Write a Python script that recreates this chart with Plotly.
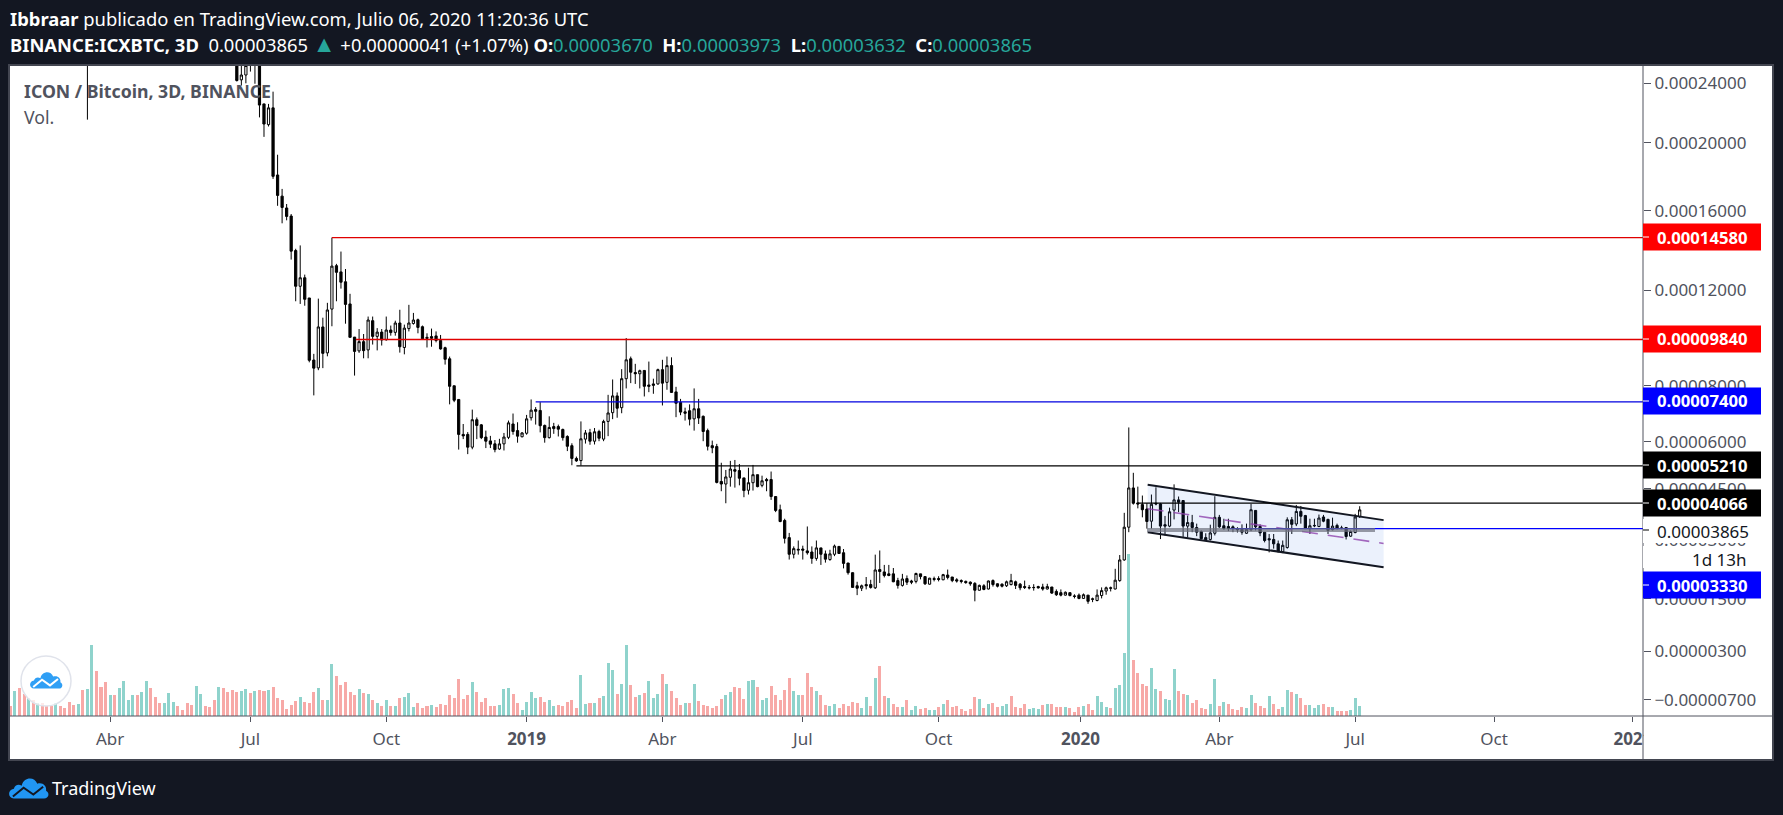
import pandas as pd
import plotly.graph_objects as go
from plotly.subplots import make_subplots

# precios en satoshis (1e-8 BTC), ultimas velas visibles
open_ = [26500, 24250, 24600, 26200, 26500, 25400, 22560, 21170, 22290, 18040,
         16820, 16160, 15720, 13920, 12190, 12590, 11650, 9000, 8690, 10370,
         9290, 11150, 13170, 12870, 12400, 11380, 9940, 9370, 9750, 9410,
         10640, 9970, 10150, 9830, 10240, 10140, 10540, 9510, 10300, 10520,
         10680, 10380, 9930, 9960, 9990, 9800, 9500, 9050, 8000, 7490,
         6250, 6250, 5820, 6760, 6580, 6160, 6030, 5930, 5760, 5930,
         6150, 6610, 6380, 6170, 6290, 6830, 7120, 7090, 6560, 6140,
         6520, 6520, 6420, 6180, 5870, 5450, 5380, 6090, 6310, 6020,
         6350, 6090, 6700, 7010, 7620, 7190, 8270, 9050, 8510, 8460,
         8590, 8030, 8070, 8070, 8620, 8130, 8780, 7770, 7380, 7040,
         7080, 6790, 7150, 6880, 6380, 5870, 5840, 4720, 4640, 4850,
         5090, 5060, 4830, 4450, 4680, 4930, 4600, 4780, 4780, 4260,
         3870, 3560, 3080, 2630, 2740, 2770, 2720, 2690, 2520, 2800,
         2640, 2490, 2630, 2840, 2670, 2400, 2150, 1820, 1760, 1850,
         1850, 1770, 2230, 2170, 2120, 2120, 1950, 1830, 2000, 1940,
         1930, 2120, 2050, 1860, 2000, 2000, 1970, 2090, 2040, 1970,
         1950, 1930, 1910, 1880, 1710, 1820, 1740, 1950, 1870, 1860,
         1820, 1850, 1920, 1860, 1800, 1780, 1780, 1800, 1790, 1740,
         1790, 1680, 1650, 1590, 1650, 1570, 1590, 1510, 1590, 1500,
         1460, 1580, 1690, 1770, 1740, 1950, 2480, 3370, 4520, 4070,
         4020, 3890, 3540, 4060, 4040, 3440, 3400, 3860, 4160, 4140,
         3400, 3500, 3360, 3250, 3080, 3030, 3200, 3650, 3410, 3390,
         3380, 3320, 3310, 3200, 3300, 3850, 3390, 3230, 3050, 3030,
         2910, 2700, 2810, 3580, 3460, 3820, 3700, 3330, 3420, 3390,
         3660, 3590, 3300, 3420, 3350, 3360, 3120, 3220, 3670]
high = [27000, 25800, 26000, 26500, 27000, 26000, 22560, 22560, 23410, 19260,
        17230, 16380, 15830, 14010, 14180, 12740, 11650, 9250, 11620, 10770,
        11430, 14580, 13260, 13870, 13010, 11840, 9940, 10280, 10070, 10820,
        10820, 10320, 10280, 10820, 10430, 10640, 11120, 10470, 11340, 10980,
        10730, 10430, 10100, 10300, 10180, 10030, 9540, 9140, 8000, 7490,
        6610, 6330, 7120, 6840, 6610, 6380, 6200, 6060, 6100, 6300,
        6730, 6980, 6670, 6330, 6930, 7490, 7210, 7390, 6590, 6880,
        6650, 6590, 6450, 6220, 5950, 5510, 6700, 6400, 6440, 6470,
        6410, 6760, 7660, 8240, 7750, 8640, 9900, 9140, 8850, 8620,
        8590, 8940, 8270, 8660, 9010, 9140, 9110, 7960, 7510, 7190,
        7310, 7900, 7510, 6910, 6450, 6040, 5930, 5310, 5080, 5370,
        5400, 5270, 4830, 5150, 5240, 4930, 4900, 4830, 5030, 4260,
        4020, 3610, 3210, 2840, 3000, 2860, 3390, 2840, 3000, 2800,
        2730, 2750, 2890, 2840, 2770, 2400, 2160, 1920, 1850, 2040,
        1970, 2620, 2730, 2350, 2350, 2270, 2020, 2120, 2080, 1970,
        2150, 2120, 2050, 2020, 2050, 2060, 2120, 2230, 2040, 2010,
        1980, 1950, 1930, 1910, 1850, 1860, 1950, 1980, 1880, 1880,
        1950, 2120, 1950, 1890, 1950, 1840, 1860, 1820, 1870, 1870,
        1790, 1730, 1730, 1680, 1650, 1610, 1630, 1630, 1590, 1530,
        1730, 1780, 1800, 1800, 2250, 2610, 3780, 6490, 4990, 4560,
        4290, 4060, 4320, 4540, 4070, 3690, 3930, 4630, 4260, 4140,
        3700, 3720, 3470, 3280, 3200, 3440, 4270, 3720, 3610, 3610,
        3420, 3370, 3450, 3470, 4040, 3860, 3450, 3230, 3180, 3180,
        3000, 3000, 3650, 3660, 4010, 3980, 3720, 3610, 3610, 3730,
        3720, 3610, 3640, 3470, 3410, 3360, 3280, 3750, 3973]
low = [24130, 23840, 24000, 24850, 23970, 21650, 20380, 21050, 17810, 16280,
       15330, 15490, 13470, 11500, 11380, 11300, 8910, 7640, 8600, 8680,
       9150, 10400, 11500, 12080, 10510, 9930, 8390, 9290, 9070, 9070,
       9630, 9390, 9590, 9790, 10000, 10000, 9300, 9230, 10180, 10470,
       10100, 9820, 9510, 9540, 9720, 9420, 8820, 7310, 7390, 5740,
       6090, 5590, 5750, 6090, 6090, 5790, 5790, 5650, 5730, 5710,
       6090, 6240, 5970, 6150, 6240, 6730, 6590, 6320, 5970, 6110,
       6270, 6180, 6040, 5690, 5230, 5340, 5220, 5940, 5900, 5910,
       6020, 6020, 6190, 6780, 6830, 6990, 7900, 8100, 8070, 7900,
       7600, 7760, 7700, 8040, 7270, 7850, 7730, 6850, 6920, 6730,
       6560, 6380, 6610, 6020, 5710, 5620, 4660, 4420, 4060, 4560,
       4530, 4600, 4240, 4320, 4440, 4540, 4540, 4420, 4160, 3800,
       3510, 2920, 2490, 2520, 2620, 2490, 2620, 2380, 2460, 2350,
       2410, 2460, 2580, 2640, 2260, 2100, 1780, 1590, 1690, 1730,
       1750, 1740, 1890, 2030, 2060, 1910, 1750, 1800, 1840, 1860,
       1880, 1980, 1840, 1850, 1930, 1930, 1960, 1980, 1910, 1900,
       1880, 1870, 1820, 1440, 1700, 1710, 1730, 1800, 1780, 1780,
       1790, 1830, 1740, 1710, 1740, 1730, 1700, 1750, 1700, 1730,
       1620, 1570, 1560, 1580, 1560, 1510, 1490, 1500, 1380, 1420,
       1440, 1510, 1600, 1680, 1730, 1920, 2460, 3230, 4020, 3910,
       3650, 3330, 3330, 4000, 3040, 3140, 3370, 3590, 3800, 3100,
       3080, 3230, 3120, 3030, 3000, 3000, 3140, 3350, 3300, 3260,
       3230, 3220, 3160, 3180, 3260, 3280, 3120, 2950, 2680, 2780,
       2680, 2660, 2780, 3180, 3400, 3470, 3330, 3180, 3370, 3370,
       3510, 3180, 3280, 3310, 3310, 3030, 3100, 3200, 3632]
close = [24200, 24600, 25300, 25800, 26200, 22480, 21210, 22290, 17960, 16860,
         16190, 15700, 13890, 12190, 12590, 11590, 8990, 8680, 10370, 9270,
         11110, 13150, 12850, 12380, 11360, 9930, 9350, 9750, 9380, 10670,
         9970, 10150, 9820, 10240, 10130, 10540, 9540, 10320, 10540, 10670,
         10350, 9870, 9890, 9890, 9800, 9450, 9030, 7980, 7460, 6250,
         6200, 5820, 6760, 6560, 6140, 6020, 5920, 5740, 5930, 6160,
         6650, 6350, 6190, 6300, 6790, 7100, 7060, 6550, 6140, 6490,
         6450, 6430, 6140, 5850, 5450, 5370, 6100, 6300, 6020, 6340,
         6120, 6700, 7000, 7620, 7170, 8270, 9010, 8520, 8460, 8580,
         7980, 7980, 8020, 8620, 8100, 8780, 7750, 7350, 7030, 6990,
         6780, 7150, 6820, 6350, 5850, 5800, 4690, 4640, 4860, 5110,
         5040, 4820, 4440, 4680, 4930, 4560, 4740, 4740, 4260, 3850,
         3530, 3060, 2630, 2780, 2760, 2740, 2670, 2520, 2800, 2630,
         2500, 2640, 2850, 2650, 2390, 2150, 1780, 1760, 1820, 1820,
         1780, 2220, 2180, 2080, 2080, 1920, 1830, 1990, 1910, 1910,
         2130, 2050, 1870, 2010, 1980, 1980, 2100, 2030, 1950, 1940,
         1930, 1900, 1870, 1710, 1830, 1730, 1940, 1850, 1810, 1810,
         1920, 1950, 1830, 1770, 1780, 1770, 1775, 1770, 1740, 1800,
         1640, 1600, 1590, 1660, 1580, 1560, 1510, 1600, 1440, 1490,
         1590, 1700, 1770, 1760, 1960, 2480, 3370, 4520, 4060, 4040,
         3870, 3530, 4030, 4040, 3400, 3400, 3810, 4160, 4090, 3400,
         3500, 3360, 3230, 3050, 3020, 3210, 3650, 3380, 3330, 3330,
         3340, 3300, 3230, 3310, 3870, 3380, 3210, 3000, 3020, 2910,
         2700, 2870, 3580, 3450, 3820, 3680, 3330, 3410, 3410, 3630,
         3540, 3280, 3400, 3330, 3340, 3110, 3250, 3660, 3865]

volume = [31, 76, 85, 67, 54, 49, 39, 39, 31, 31, 39, 31, 25, 43, 34, 37, 79, 82, 214, 136,
          88, 103, 64, 64, 85, 106, 49, 64, 64, 73, 106, 85, 58, 40, 40, 70, 43, 31, 19, 40,
          34, 91, 67, 31, 28, 49, 88, 85, 73, 79, 73, 76, 82, 70, 76, 79, 76, 79, 88, 55,
          49, 22, 34, 46, 58, 43, 40, 73, 85, 49, 49, 157, 121, 94, 103, 73, 64, 82, 70, 67,
          49, 40, 31, 49, 31, 31, 55, 58, 70, 28, 40, 25, 31, 34, 28, 37, 34, 64, 55, 112,
          52, 64, 103, 73, 43, 55, 31, 31, 34, 82, 85, 67, 40, 19, 43, 73, 55, 58, 43, 49,
          31, 34, 31, 43, 49, 25, 124, 37, 40, 40, 55,
          61, 160, 139, 67, 97, 214, 94, 58, 64, 70, 106, 55, 67, 127, 97, 76, 55, 34, 40, 40,
          97, 46, 34, 31, 25, 31, 52, 64, 73, 88, 85, 52, 106, 109, 88, 49, 55, 91, 64, 49,
          79, 115, 76, 64, 64, 130, 88, 76, 64, 34, 31, 37, 25, 37, 31, 43, 40, 25, 58, 31,
          115, 151, 61, 55, 37, 28, 28, 49, 19, 31, 22, 25, 19, 19, 28, 37, 49, 28, 31, 22,
          16, 22, 58, 52, 25, 37, 40, 28, 31, 37, 61, 28, 25, 37, 22, 25, 22, 34, 37, 37,
          28, 28, 28, 25, 13, 28, 31, 37, 19, 61, 43, 28, 25, 85, 94, 190, 486, 169, 130, 97,
          91, 145, 82, 76, 52, 49, 142, 76, 67, 64, 40, 49, 25, 22, 37, 112, 31, 43, 37, 22,
          19, 28, 25, 64, 40, 31, 25, 61, 37, 22, 28, 79, 73, 67, 55, 34, 34, 25, 34, 37,
          28, 28, 16, 16, 16, 19, 55, 31]
vol_dir = list("rgrrgrgrrrgrrrrgrggr"
               "rrgrggggrggrrrgggrrr"
               "rggrrrgrrrrggrgrrgrr"
               "rrrrgrrrgrggrrrrrgrg"
               "rgrgrgrgggrrrgrrrrrr"
               "rrgrrrrrgggrrggggrrg"
               "grrrrrggrgr"
               "gggrggrrgrgggrgrrrgr"
               "grrrrrrggrrrggrggrrr"
               "rrggrrrgrrggrrrrrggr"
               "grrgrrgrggrrggrgrrrr"
               "rrrgrgrrggrrrrgggrgr"
               "rrgrrrgrrgggrggggrrr"
               "rggrgggrrgrrrrggrgrr"
               "rrggrrrgrrggrgrrgggr"
               "rgrrrggg")

# cada marca va en la vela donde aparece la etiqueta
tick_dates = ["2018-03-29", "2018-06-30", "2018-09-28", "2018-12-30", "2019-03-30", "2019-07-01",
              "2019-09-29", "2020-01-01", "2020-04-02", "2020-07-01", "2020-10-01", "2021-01-01"]
tick_names = ["Abr", "Jul", "Oct", "<b>2019</b>", "Abr", "Jul", "Oct", "<b>2020</b>", "Abr", "Jul", "Oct", "<b>2021</b>"]
price_ticks = [24000, 20000, 16000, 12000, 8000, 6000, 4500, 3000, 1500, 300, -700]
price_names = ["0.00024000", "0.00020000", "0.00016000", "0.00012000", "0.00008000", "0.00006000",
               "0.00004500", "0.00003000", "0.00001500", "0.00000300", "\u22120.00000700"]

level_prices = [14580, 9840, 7400, 5210, 4066, 3330]
level_starts = ["2018-08-23", "2018-09-08", "2019-01-05", "2019-02-01", "2020-02-08", "2020-04-09"]
level_colors = ["#e00000", "#e00000", "#0000e0", "#000000", "#000000", "#0000ff"]
tag_names = ["0.00014580", "0.00009840", "0.00007400", "0.00005210", "0.00004066", "0.00003330"]
tag_colors = ["#ff0000", "#ff0000", "#0000ff", "#000000", "#000000", "#0000ff"]
tag_centers = [237, 339, 401, 465, 503, 585]

channel_dates = ["2020-02-14 12:00", "2020-07-19 20:00"]
channel_top = [4620, 3570]
channel_mid = [3900, 2920]
channel_bottom = [3230, 2290]

OFFSET = 10000  # la escala del grafico es logaritmica desplazada
PLOT_L, PLOT_R, PLOT_T, PLOT_B = 10, 1643, 66, 716
AXIS_COLOR = "#50535e"
FONT = "Noto Sans"


def px_x(x):
    return (x - PLOT_L) / (PLOT_R - PLOT_L)


def px_y(y):
    return 1 - (y - PLOT_T) / (PLOT_B - PLOT_T)


def shifted(values):
    return [v + OFFSET for v in values]


def rect(x0, y0, x1, y1, fill, line=None, layer="above"):
    return dict(type="rect", xref="paper", yref="paper", x0=px_x(x0), x1=px_x(x1), y0=px_y(y0), y1=px_y(y1),
                fillcolor=fill, line=dict(color=line or fill, width=2 if line else 0), layer=layer)


def seg(x0, y0, x1, y1, color, width=1, layer="above"):
    return dict(type="line", xref="paper", yref="paper", x0=px_x(x0), x1=px_x(x1), y0=px_y(y0), y1=px_y(y1),
                line=dict(color=color, width=width), layer=layer)


def logo(x0, y0, w, fill, stroke):
    # nube de TradingView dibujada en una caja de 40x22
    k = w / 40

    def pt(x, y):
        return f"{px_x(x0 + x * k):.5f},{px_y(y0 + y * k):.5f}"

    cloud = (f"M{pt(5, 22)} C{pt(-1, 22)} {pt(-2, 13)} {pt(5, 12)} C{pt(6, 8)} {pt(10, 7)} {pt(13, 9)} "
             f"C{pt(15, 0)} {pt(26, -1)} {pt(29, 7)} C{pt(34, 5)} {pt(39, 9)} {pt(38, 14)} "
             f"C{pt(42, 16)} {pt(41, 22)} {pt(36, 22)} Z")
    ridge = f"M{pt(4, 20)} L{pt(15, 11)} L{pt(25, 18)} L{pt(35, 10)}"
    return [
        dict(type="path", xref="paper", yref="paper", path=cloud, fillcolor=fill, line=dict(width=0), layer="above"),
        dict(type="path", xref="paper", yref="paper", path=ridge, line=dict(color=stroke, width=2), layer="above"),
    ]


vol_dates = pd.date_range(end="2020-07-04", periods=len(volume), freq="3D")
bar_dates = pd.date_range(end="2020-07-04", periods=len(close), freq="3D")
vol_colors = ["#8fd3cc" if d == "g" else "#f7a9a7" for d in vol_dir]

fig = make_subplots(specs=[[{"secondary_y": True}]])

fig.add_trace(go.Bar(x=vol_dates, y=volume, marker=dict(color=vol_colors, line=dict(width=0)),
                     width=2.0 * 86400000), secondary_y=False)
fig.add_trace(go.Candlestick(x=bar_dates, open=shifted(open_), high=shifted(high), low=shifted(low), close=shifted(close),
                             increasing=dict(line=dict(color="#000000", width=1), fillcolor="#ffffff"),
                             decreasing=dict(line=dict(color="#000000", width=1), fillcolor="#000000"),
                             whiskerwidth=0), secondary_y=True)
# mecha suelta de marzo 2018, el resto de esas velas queda fuera del rango
fig.add_trace(go.Scatter(x=["2018-03-14", "2018-03-14"], y=shifted([27000, 21500]), mode="lines",
                         line=dict(color="#000000", width=1)), secondary_y=True)

# canal
fig.add_trace(go.Scatter(x=channel_dates, y=shifted(channel_bottom), mode="lines", line=dict(color="#131722", width=2)),
              secondary_y=True)
fig.add_trace(go.Scatter(x=channel_dates, y=shifted(channel_top), mode="lines", line=dict(color="#131722", width=2),
                         fill="tonexty", fillcolor="rgba(33,100,220,0.09)"), secondary_y=True)
fig.add_trace(go.Scatter(x=channel_dates, y=shifted(channel_mid), mode="lines",
                         line=dict(color="rgba(142,68,173,0.8)", width=1.6, dash="16px 10px")), secondary_y=True)

for price, start, color in zip(level_prices, level_starts, level_colors):
    fig.add_trace(go.Scatter(x=[start, "2021-01-08"], y=shifted([price, price]), mode="lines",
                             line=dict(color=color, width=1.3)), secondary_y=True)

shapes = [
    rect(9, 65, 1773, 760, "#ffffff", "#434651", layer="below"),
    # el eje de precios sigue hasta el borde inferior y recorta la etiqueta 2021
    rect(1644, 717, 1772, 759, "#ffffff"),
    seg(10, 716, 1772, 716, AXIS_COLOR),
    seg(1643, 66, 1643, 759, AXIS_COLOR),
    rect(1147, 528, 1375, 532, "rgba(110,113,125,0.7)"),
    rect(1643, 519, 1761, 543, "#ffffff"),
    rect(1643, 546, 1761, 568, "#ffffff"),
    seg(1643, 530, 1649, 530, "#000000"),
]
shapes.append(dict(type="circle", xref="paper", yref="paper", x0=px_x(21), x1=px_x(71), y0=px_y(656), y1=px_y(706),
                   fillcolor="rgba(255,255,255,0.75)", line=dict(color="#e0e3eb", width=1.5), layer="above"))
shapes += logo(30, 671, 32, "#2f9ff5", "#ffffff")
shapes += logo(9, 777, 39, "#2196f3", "#131722")

annotations = []


def add_text(text, x, y, size, color, anchor="left"):
    annotations.append(dict(text=text, xref="paper", yref="paper", x=px_x(x), y=px_y(y), xanchor=anchor, yanchor="middle",
                            showarrow=False, font=dict(family=FONT, size=size, color=color), borderpad=0))


for name, color, center in zip(tag_names, tag_colors, tag_centers):
    shapes.append(rect(1643, center - 13.5, 1761, center + 13.5, color))
    shapes.append(seg(1643, center, 1649, center, "#ffffff"))
    add_text(f"<b>{name}</b>", 1656, center, 16.7, "#ffffff")

add_text("0.00003865", 1656, 531, 17, "#131722")
add_text("1d 13h", 1748, 559, 17, "#131722", anchor="right")

add_text("<b>Ibbraar</b> publicado en TradingView.com, Julio 06, 2020 11:20:36 UTC", 9, 19, 18.4, "#ffffff")
teal = "#26a69a"
gap = "\u00a0\u00a0"
add_text(f"<b>BINANCE:ICXBTC, 3D</b>{gap}0.00003865 "
         f"<span style='color:{teal};font-size:23px'>\u25b2</span> +0.00000041 (+1.07%) "
         f"<b>O:</b><span style='color:{teal}'>0.00003670</span>{gap}"
         f"<b>H:</b><span style='color:{teal}'>0.00003973</span>{gap}"
         f"<b>L:</b><span style='color:{teal}'>0.00003632</span>{gap}"
         f"<b>C:</b><span style='color:{teal}'>0.00003865</span>", 9, 43, 18.4, "#ffffff")
add_text("<b>ICON / Bitcoin, 3D, BINANCE</b>", 23, 91, 17.7, AXIS_COLOR)
add_text("Vol.", 23, 117, 17.7, AXIS_COLOR)
add_text("TradingView", 51, 788, 18, "#ffffff")

fig.update_layout(
    width=1783, height=815, showlegend=False, bargap=0,
    paper_bgcolor="#131722", plot_bgcolor="#ffffff",
    margin=dict(l=PLOT_L, r=1783 - PLOT_R, t=PLOT_T, b=815 - PLOT_B, autoexpand=False),
    font=dict(family=FONT, size=17, color=AXIS_COLOR),
    shapes=shapes, annotations=annotations,
)
fig.update_xaxes(type="date", domain=[0, 1], range=["2018-01-21 17:00", "2021-01-07 17:00"], rangeslider_visible=False,
                 showgrid=False, zeroline=False, tickmode="array", tickvals=tick_dates, ticktext=tick_names,
                 ticks="outside", ticklen=5, ticklabelstandoff=3, tickcolor=AXIS_COLOR,
                 tickfont=dict(family=FONT, size=17, color=AXIS_COLOR))
fig.update_yaxes(range=[0, 1950], visible=False, showgrid=False, secondary_y=False)
fig.update_yaxes(type="log", range=[3.9537, 4.5473], side="right", showgrid=False, zeroline=False, tickmode="array",
                 tickvals=shifted(price_ticks), ticktext=price_names, ticks="outside", ticklen=7, tickcolor=AXIS_COLOR,
                 tickfont=dict(family=FONT, size=17, color=AXIS_COLOR), secondary_y=True)

# el margen por defecto del body correria todo 8 px
fig.write_html("out.html", config={"displayModeBar": False},
               post_script="document.body.style.margin='0';document.body.style.background='#131722';"
                           "document.documentElement.style.overflow='hidden';")
